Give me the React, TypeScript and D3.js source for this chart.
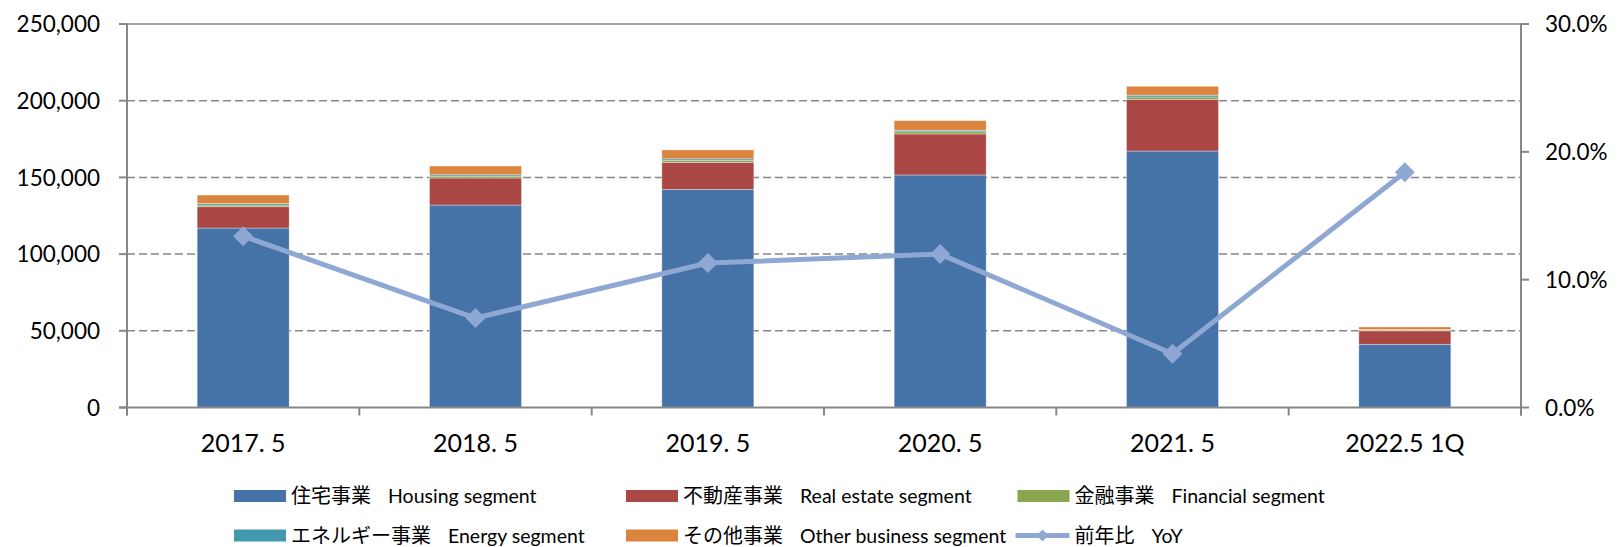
import React from 'react';
import * as d3 from 'd3';

const categories = ['2017. 5', '2018. 5', '2019. 5', '2020. 5', '2021. 5', '2022.5 1Q'];
const housing = [117000, 132000, 142200, 151600, 167200, 41200];
const realEstate = [13900, 17600, 17600, 26700, 33700, 8800];
const financial = [1100, 1200, 1300, 1400, 1500, 500];
const energy = [900, 900, 1000, 1000, 1200, 300];
const other = [5600, 5700, 5800, 6300, 5800, 1700];
const yoy = [0.134, 0.07, 0.113, 0.12, 0.042, 0.184];
const leftTicks = [0, 50000, 100000, 150000, 200000, 250000];
const rightTicks = [0, 0.1, 0.2, 0.3];

const seriesKeys = ['housing', 'realEstate', 'financial', 'energy', 'other'];
const seriesJP = ['住宅事業', '不動産事業', '金融事業', 'エネルギー事業', 'その他事業'];
const seriesEN = ['Housing segment', 'Real estate segment', 'Financial segment', 'Energy segment', 'Other business segment'];
const seriesColors = ['#4572A7', '#AA4643', '#89A54E', '#4198AF', '#DB843D'];
const lineJP = '前年比';
const lineEN = 'YoY';
const lineColor = '#8FA8D3';

const W = 1617;
const H = 547;
const plot = { left: 127, right: 1521, top: 24, bottom: 407.5 };
const axisColor = '#878787';
const gridColor = '#878787';
const latin = 'Lato, "Noto Sans", sans-serif';
const cjk = '"Noto Sans CJK JP", "Noto Sans", sans-serif';

export default function App() {
  const table = categories.map((c, i) => ({
    cat: c,
    housing: housing[i],
    realEstate: realEstate[i],
    financial: financial[i],
    energy: energy[i],
    other: other[i],
  }));
  const stacked = d3.stack<any>().keys(seriesKeys)(table);

  const x = d3
    .scaleBand<string>()
    .domain(categories)
    .range([plot.left, plot.right])
    .paddingInner(0.604)
    .paddingOuter(0.302);
  const step = x.step();
  const yL = d3.scaleLinear().domain([0, 250000]).range([plot.bottom, plot.top]);
  const yR = d3.scaleLinear().domain([0, 0.3]).range([plot.bottom, plot.top]);
  const fmtL = d3.format(',');
  const fmtR = d3.format('.1%');

  const cx = (c: string) => (x(c) as number) + x.bandwidth() / 2;
  const linePath = d3
    .line<number>()
    .x((_, i) => cx(categories[i]))
    .y((d) => yR(d))(yoy) as string;

  const diamond = (px: number, py: number, r: number) =>
    `M${px},${py - r}L${px + r},${py}L${px},${py + r}L${px - r},${py}Z`;

  const boundaries = d3.range(categories.length + 1).map((i) => plot.left + i * step);

  // legend layout
  const legendRows = [496, 535.5];
  const legendCols = [234, 626, 1017.5];
  const swW = 52;
  const swH = 12;
  const legendItems = seriesKeys.map((k, i) => ({
    kind: 'bar',
    color: seriesColors[i],
    jp: seriesJP[i],
    en: seriesEN[i],
    col: i % 3,
    row: Math.floor(i / 3),
  }));
  legendItems.push({ kind: 'line', color: lineColor, jp: lineJP, en: lineEN, col: 2, row: 1 });

  return (
    <svg
      width={W}
      height={H}
      style={{ position: 'absolute', left: 0, top: 0, background: '#fff' }}
    >
      <rect x={0} y={0} width={W} height={H} fill="#fff" />
      {/* gridlines */}
      {leftTicks.map((t) =>
        t === 0 ? null : (
          <line
            key={'g' + t}
            x1={plot.left}
            x2={plot.right}
            y1={yL(t)}
            y2={yL(t)}
            stroke={gridColor}
            strokeWidth={1.5}
            strokeDasharray={t === 250000 ? undefined : '8,4'}
          />
        )
      )}
      {/* bars */}
      {stacked.map((s, si) => (
        <g key={s.key} fill={seriesColors[si]}>
          {s.map((d, i) => (
            <rect
              key={i}
              x={x(categories[i])}
              width={x.bandwidth()}
              y={yL(d[1])}
              height={Math.max(0, yL(d[0]) - yL(d[1]))}
              stroke="rgba(255,255,255,0.45)"
              strokeWidth={0.8}
            />
          ))}
        </g>
      ))}
      {/* left axis */}
      <line x1={plot.left} x2={plot.left} y1={plot.top} y2={plot.bottom + 8} stroke={axisColor} strokeWidth={2} />
      {leftTicks.map((t) => (
        <g key={'l' + t}>
          <line x1={plot.left - 8} x2={plot.left} y1={yL(t)} y2={yL(t)} stroke={axisColor} strokeWidth={2} />
          <text
            x={100}
            y={yL(t)}
            dy="0.36em"
            textAnchor="end"
            fontFamily={latin}
            fontSize={22.5}
            fill="#000"
          >
            {fmtL(t)}
          </text>
        </g>
      ))}
      {/* right axis */}
      <line x1={plot.right} x2={plot.right} y1={plot.top} y2={plot.bottom + 8} stroke={axisColor} strokeWidth={2} />
      {rightTicks.map((t) => (
        <g key={'r' + t}>
          <line x1={plot.right} x2={plot.right + 8} y1={yR(t)} y2={yR(t)} stroke={axisColor} strokeWidth={2} />
          <text x={1545} y={yR(t)} dy="0.36em" fontFamily={latin} fontSize={22.5} fill="#000">
            {fmtR(t)}
          </text>
        </g>
      ))}
      {/* x axis */}
      <line x1={plot.left - 8} x2={plot.right} y1={plot.bottom} y2={plot.bottom} stroke={axisColor} strokeWidth={2} />
      {boundaries.map((b, i) => (
        <line key={'b' + i} x1={b} x2={b} y1={plot.bottom} y2={plot.bottom + 8} stroke={axisColor} strokeWidth={2} />
      ))}
      {categories.map((c) => (
        <text
          key={'c' + c}
          x={cx(c)}
          y={442.5}
          dy="0.36em"
          textAnchor="middle"
          fontFamily={latin}
          fontSize={25}
          fill="#000"
        >
          {c}
        </text>
      ))}
      {/* YoY line */}
      <path d={linePath} fill="none" stroke={lineColor} strokeWidth={5} strokeLinejoin="round" />
      {yoy.map((v, i) => (
        <path key={'m' + i} d={diamond(cx(categories[i]), yR(v), 10)} fill={lineColor} />
      ))}
      {/* legend */}
      {legendItems.map((it, i) => {
        const lx = legendCols[it.col];
        const ly = legendRows[it.row];
        const jpW = it.jp.length * 20;
        return (
          <g key={'lg' + i}>
            {it.kind === 'bar' ? (
              <rect x={lx} y={ly - swH / 2} width={swW} height={swH} fill={it.color} />
            ) : (
              <g>
                <line x1={lx - 2} x2={lx + swW} y1={ly} y2={ly} stroke={it.color} strokeWidth={5} />
                <path d={diamond(lx + swW / 2 - 1, ly, 6)} fill={it.color} />
              </g>
            )}
            <text x={lx + swW + 5} y={ly + 7} fontFamily={cjk} fontSize={20} fill="#000">
              {it.jp}
            </text>
            <text x={lx + swW + 5 + jpW + 17} y={ly + 7} fontFamily={latin} fontSize={19.5} fill="#000">
              {it.en}
            </text>
          </g>
        );
      })}
    </svg>
  );
}
